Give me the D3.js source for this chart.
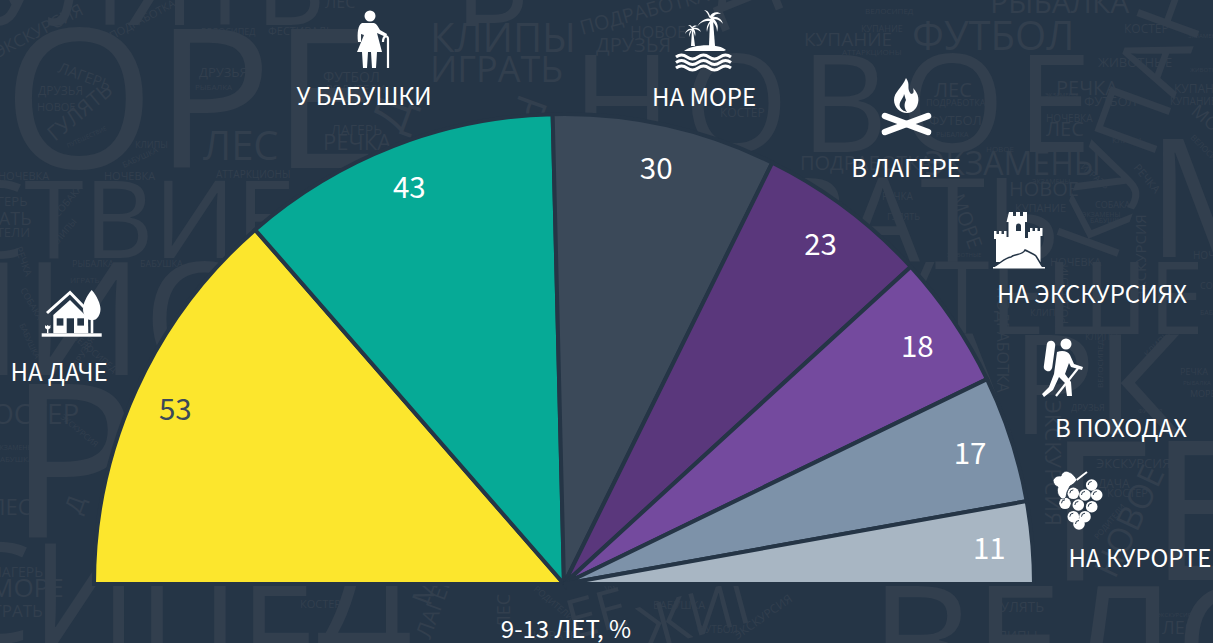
<!DOCTYPE html>
<html><head><meta charset="utf-8">
<script src="https://cdn.jsdelivr.net/npm/d3@7"></script>
<style>html,body{margin:0;padding:0;background:#253546;overflow:hidden}svg{display:block}</style>
</head><body><svg id="c" width="1213" height="643"></svg>
<script>
const categories=["НА ДАЧЕ","У БАБУШКИ","НА МОРЕ","В ЛАГЕРЕ","НА ЭКСКУРСИЯХ","В ПОХОДАХ","НА КУРОРТЕ"];
const values=[53,43,30,23,18,17,11];
const colors=["#FCE62D","#06AA96","#3B4959","#5A377C","#744A9E","#7D92A9","#A8B6C3"];
const labelColors=["#3B4959","#fff","#fff","#fff","#fff","#fff","#fff"];
const caption="9-13 ЛЕТ, %";
const labelPos=[[59,381],[364,105],[704,106],[906,177],[1092,303],[1121,437],[1140,567]];
const iconPos=[[72,315],[368,38],[704,35],[907,105],[1018,240],[1062,370],[1078,500]];
// decorative word cloud: word, x, y, font size, rotation, letter spacing
const cloud=[
["ОРЕ",3,168,195,0],["НОВОЕ",572,152,135,0,12],["ПУТЕШЕСТВИЕ",-480,258,108,0],["ЗАГОРАТЬ",478,262,118,0],
["КУПАНИЕ",1114,265,90,-70],["М",1147,257,164,0],["ПУТЕШЕ",800,334,100,0],["ПАРК",821,434,140,0],["ШИО",-140,375,158,0],
["Р",8,537,215,0],["СИПЕД",-57,643,140,0],["ВЕЛО",870,700,160,0],["ГЕ",1048,580,195,0],["УЛЯТЬ",-20,25,110,0],["В",455,23,115,0],["ДА",715,15,100,-22],
["Д",402,135,48,-70],["Р",520,92,42,110],
["ЭКСКУРСИЯ",-2,58,17,-27],["ПОДРАБОТКА",112,40,11,-28],["ВЕЛОСИПЕД",201,35,9,0],["ФЕСТИВАЛЬ",268,35,11,0],["ЛЕС",325,8,16,0],
["ЛАГЕРЬ",57,72,15,20],["ДРУЗЬЯ",38,95,12,0],["НОВОЕ",37,111,11,0],["ГУЛЯТЬ",55,142,21,-40],["ПУТЕШЕСТВИЕ",68,148,6,-25],["КЛИПЫ",135,148,9,0],["БАБУШКА",124,168,8,-25],
["ЛЕС",203,160,40,0],["НОЧЕВКА",-2,180,11,0],["НОЧЕВКА",104,180,11,0],["АТТАРКЦИОНЫ",216,178,10,0],["ДРУЗЬЯ",199,77,13,0],["РЫБАЛКА",195,90,8,0],
["ФУТБОЛ",323,82,14,0],["РОДИТЕЛИ",326,93,11,0],["ЛАГЕРЬ",331,135,14,0],["РЕЧКА",323,150,22,0],["ЛАГЕРЬ",-20,206,13,0],["ИГРАТЬ",-35,225,18,0],["РОДИТЕЛИ",-40,237,13,0],
["СОБАКА",58,218,10,-50],["КЛИПЫ",56,247,9,-50],["РЫБАЛКА",72,267,9,0],["БАБУШКА",140,267,9,0],["ИГРАТЬ",70,283,8,0],["РЕЧКА",15,248,10,70],["СОБАКА",20,290,9,60],["БАБУШКА",19,325,8,65],
["КЛИПЫ",430,52,40,0],["ИГРАТЬ",430,82,36,0],["ПОДРАБОТКА",582,35,20,-15],["НОВОЕ",630,38,16,0],["ДРУЗЬЯ",596,52,20,0],["КОСТЕР",720,117,12,0],
["ВЕЛОСИПЕД",865,14,8,0],["КУПАНИЕ",861,32,9,0],["КУПАНИЕ",804,46,19,0],["АТТАРКЦИОНЫ",842,55,8,0],["ФУТБОЛ",912,50,40,0],["РЫБАЛКА",990,13,30,0],["КОСТЕР",1124,33,12,0],
["ЖИВОТНЫЕ",1098,67,13,0],["ЛЕС",934,97,20,0],["ПОДРАБОТКА",926,106,9,0],["ФУТБОЛ",929,125,13,0],["РЫБАЛКА",936,137,7,0],["РЕЧКА",1056,95,20,0],["ФУТБОЛ",1084,106,13,0],
["ЭКЗАМЕНЫ",1045,97,6,0],["НОЧЕВКА",1046,122,10,0],["ЛЕС",1046,136,20,0],["ЭКЗАМЕНЫ",925,175,32,0],["ПОДРАБОТКА",800,170,20,0],["НОВОЕ",1009,196,20,0],["КУПАНИЕ",1015,212,11,0],
["ЭКЗАМЕНЫ",1032,184,7,0],["НОВОЕ",986,152,8,0],["РЕЧКА",882,200,10,0],["ГУЛЯТЬ",887,220,9,0],["МОРЕ",950,197,20,70],["ЖИВОТНЫЕ",947,257,6,0],["НОЧЕВКА",1050,266,11,0],
["СОБАКА",1095,208,9,0],["ЭКЗАМЕНЫ",1082,217,7,0],["БАБУШКА",1090,223,7,0],["КЛИПЫ",1112,143,8,0],["КУПАНИЕ",1174,93,12,0],["КУПАНИЕ",1170,105,10,0],
["ЭКЗАМЕНЫ",1188,38,6,0],["ЖИВОТНЫЕ",1190,72,6,0],["МОРЕ",1190,113,18,40],["ВЕЛОСИПЕД",1190,138,8,45],["РЕЧКА",1133,168,11,50],["ИГРАТЬ",1080,168,9,40],["НОЧЕВКА",1193,259,10,0],
["ЭКСКУРСИЯ",1146,300,15,-90],["ПОДРАБОТКА",997,287,16,90],["ВЕЛОСИПЕД",1103,388,8,-90],["РОДИТЕЛИ",1068,324,11,-90],["КЛИПЫ",1030,316,9,0],["КЛИПЫ",1085,340,9,0],["КЛИПЫ",1148,358,9,-45],
["СОБАКА",1200,289,9,0],["БАБУШКА",1200,315,7,0],["ЭКСКУРСИЯ",1045,400,22,90],
["ДРУЗЬЯ",1071,411,9,0],["ФУТБОЛ",1138,413,6,0],["ЭКСКУРСИЯ",1096,468,13,0],["ДАЧА",1098,488,12,0],["КОСТЕР",1107,497,11,0],["НОВОЕ",1115,580,34,-65],["РОДИТЕЛИ",1098,540,8,-50],
["ГУЛЯТЬ",993,612,14,0],["КЛИПЫ",990,640,13,0],["ЭКСКУРСИЯ",1157,617,6,0],["ЛЕС",1162,634,18,0],["РЕЧКА",1180,375,9,0],["РЫБАЛКА",1183,385,6,0],["МОРЕ",1190,397,9,0],
["КОСТЕР",300,608,11,0],["БАБУШКА",653,609,11,0],["ФУТБОЛ",697,633,10,0],["РОДИТЕЛИ",533,590,9,40],["ЛЕС",510,628,18,-90],["ЛАГЕРЬ",430,640,22,-70],["МОРЕ",430,607,28,-70],
["ИГРАТЬ",533,640,12,0],["ИГРАТЬ",607,593,10,-30],["ЭКСКУРСИЯ",737,640,12,-35],["ЕЕ",572,640,55,-15],["ЖИГ",645,650,60,-15],
["ВЕЛОСИПЕД",72,338,9,40],["ЭКСКУРСИЯ",60,418,8,40],["ЭКЗАМЕНЫ",-5,450,7,0],["БАБУШКА",-5,462,8,0],
["КОСТЕР",-25,424,28,0],["ЛЕС",-10,515,22,0],["ЛАГЕРЬ",-8,577,14,0],["МОРЕ",-10,597,26,0],["ИГРАТЬ",-20,617,17,0],["Д",80,515,24,-70],["ДРУЗЬЯ",78,368,9,-60]
];
const W=1213,H=643,cx=564,cy=584,R=470,labelR=427;
const svg=d3.select("#c");
svg.append("rect").attr("width",W).attr("height",H).attr("fill","#253546");
const font='"Noto Sans CJK SC","Source Sans Pro",sans-serif';
svg.append("g").selectAll("text").data(cloud).join("text")
 .text(d=>d[0]).attr("font-family",'"Open Sans",sans-serif').attr("font-size",d=>d[3]).attr("letter-spacing",d=>d[5]||0)
 .attr("fill","#323F4E").attr("transform",d=>`translate(${d[1]},${d[2]}) rotate(${d[4]})`);
const pie=d3.pie().sort(null).startAngle(-Math.PI/2).endAngle(Math.PI/2);
const arcs=pie(values);
const arc=d3.arc().innerRadius(0).outerRadius(R);
const lab=d3.arc().innerRadius(labelR).outerRadius(labelR);
const g=svg.append("g").attr("transform",`translate(${cx},${cy})`);
g.selectAll("path").data(arcs).join("path").attr("d",arc).attr("fill",(d,i)=>colors[i]).attr("stroke","#253546").attr("stroke-width",4).attr("stroke-linejoin","miter");
g.selectAll("text").data(arcs).join("text").attr("transform",d=>`translate(${lab.centroid(d)})`)
 .attr("text-anchor","middle").attr("dy","0.42em").attr("font-family",font).attr("font-size",29.5)
 .attr("fill",(d,i)=>labelColors[i]).text(d=>d.value);
const L=svg.append("g").attr("font-family",font).attr("font-size",24).attr("fill","#fff").attr("text-anchor","middle");
categories.forEach((c,i)=>L.append("text").attr("x",labelPos[i][0]).attr("y",labelPos[i][1]).text(c));
L.append("text").attr("x",566).attr("y",638).text(caption);

const BG="#253546";
function icon(i){return svg.append("g").attr("transform",`translate(${iconPos[i]})`).attr("fill","#fff");}
// house
(function(){const s=icon(0);
 s.append("path").attr("d","M-25,-2 L-2,-22.5 L12,-8").attr("fill","none").attr("stroke","#fff").attr("stroke-width",3);
 s.append("path").attr("d","M-18.7,0 L-2,-15 L12,-1 L16,3 L16.3,18.3 L-18.7,18.3Z");
 s.append("path").attr("d","M19.7,-25 C25,-19 28.5,-11 28.5,-6 C28.5,0 25,5 21.3,5 L21.3,18.3 L18.7,18.3 L18.7,5 C14.5,5 11,0 11,-6 C11,-11 14.5,-19 19.7,-25Z");
 [[-15.3,3.3,6.7,7.3],[-5.3,3.3,7.3,15],[5.3,3.3,6.7,7.3]].forEach(r=>s.append("rect").attr("x",r[0]).attr("y",r[1]).attr("width",r[2]).attr("height",r[3]).attr("fill",BG));
 s.append("rect").attr("x",-30.3).attr("y",18.3).attr("width",60).attr("height",3.4);
 s.append("path").attr("d","M-27,10 l1.3,1.3 l1.4,-1.3 l1.4,1.3 l1.3,-1.3 v3 l-2,1.6 v3.7 h-1.4 v-3.7 l-2,-1.6Z");
})();
// grandmother
(function(){const s=icon(1);
 s.append("circle").attr("cx",2).attr("cy",-22).attr("r",5.5);
 s.append("path").attr("d","M-6,-15 L6,-15 C9,-14 10,-11 12,-8 L19,-4 L18,-1 L9,-5 L14,14 L-11,14 L-4,-3 L-7,-4 L-7,4 L-10,4 C-11,-5 -10,-13 -6,-15Z");
 s.append("path").attr("d","M-6,14 L0,14 L-1,30 L-5,30Z M3,14 L9,14 L8,30 L4,30Z");
 s.append("path").attr("d","M15,4 C15,-3 20,-3 20,1 L20,30").attr("fill","none").attr("stroke","#fff").attr("stroke-width",2.2);
})();
// island
(function(){const s=icon(2);
 s.append("path").attr("d","M-20,16 C-12,9 15,8 22,15 L20,16Z");
 s.append("path").attr("d","M5,11 L6,-15 L9,-15 L11,11Z");
 s.append("path").attr("d","M7,-16 C2,-18 -4,-14 -7,-8 C-3,-14 2,-14 6,-14 C3,-10 2,-7 3,-3 C4,-9 6,-12 8,-14 C12,-10 13,-7 13,-3 C15,-9 13,-13 10,-16 C14,-16 18,-13 19,-11 C18,-16 13,-19 9,-18 C11,-21 14,-22 17,-21 C14,-24 8,-23 6,-19 C5,-23 3,-25 0,-25 C3,-23 4,-21 5,-18Z");
 s.append("path").attr("d","M-13,11 L-12,-5 L-11,-5 L-9,11Z");
 s.append("path").attr("d","M-12,-6 C-15,-7 -18,-5 -19,-1 C-17,-4 -15,-5 -13,-5 C-15,-3 -15,0 -15,2 C-14,-1 -13,-3 -12,-5 C-10,-3 -9,0 -9,2 C-8,-2 -9,-4 -10,-6 C-8,-6 -5,-5 -3,-3 C-4,-7 -8,-8 -11,-7 C-10,-8 -8,-9 -7,-9 C-9,-10 -11,-9 -12,-8 C-13,-10 -14,-10 -16,-10 C-14,-9 -13,-8 -12,-6Z");
 [22,27.5,33].forEach(y=>s.append("path").attr("d",`M-28,${y} q5.5,-4 11,0 t11,0 t11,0 t11,0 t11,0`).attr("fill","none").attr("stroke","#fff").attr("stroke-width",3));
})();
// campfire
(function(){const s=icon(3);
 s.append("path").attr("fill-rule","evenodd").attr("d","M-1,-27 C4,-20 -1,-17 4,-11 C7,-11 7,-14 6,-17 C12,-11 13,-4 9,3 C6,7 3,8 0,8 C-7,8 -13,2 -13,-5 C-13,-13 -5,-17 -1,-27Z M-3,-11 C-3,-7 -9,-3 -7,2 C-5,6 -2,6 0,7 C-3,3 -3,-1 -1,-5 C-2,-7 -2,-9 -3,-11Z");
 [[-22,11,21,27],[21,11,-22,27]].forEach(l=>s.append("line").attr("x1",l[0]).attr("y1",l[1]).attr("x2",l[2]).attr("y2",l[3]).attr("stroke","#fff").attr("stroke-width",6.5).attr("stroke-linecap","round"));
})();
// castle
(function(){const s=icon(4);
 s.append("path").attr("d","M-9,-28 h4 v4 h3 v-4 h4 v4 h3 v-4 h4 v10 h-2 V-2 h3 V-8 h2 v-4 h2.5 v3 h2.5 v-3 h2.5 v3 h2.5 v-3 h2.5 v8 h-2 V22 H-22 V-1 h-2 v-8 h2.5 v3 h2.5 v-3 h2.5 v3 h2.5 v-3 h2.5 v6 h2 V-18 h-2Z");
 s.append("path").attr("d","M-2,-9 v-5 a2.5,2.5 0 0 1 5,0 v5Z").attr("fill",BG);
 s.append("path").attr("d","M-25,27 C-18,24 -14,18 -7,17 C-3,13 4,16 7,10 C11,12 16,14 18,16 L24,26 L27,28 L-26,28Z").attr("stroke",BG).attr("stroke-width",1.5);
 s.append("rect").attr("x",-25).attr("y",27).attr("width",52).attr("height",1.5);
})();
// hiker
(function(){const s=icon(5);
 s.append("circle").attr("cx",4).attr("cy",-26).attr("r",5.5);
 s.append("line").attr("x1",-11).attr("y1",-25).attr("x2",-14).attr("y2",-3).attr("stroke","#fff").attr("stroke-width",8.5).attr("stroke-linecap","round");
 s.append("path").attr("d","M-5,-18 C0,-20 6,-19 8,-15 L12,-6 L21,-3 L20,0 L9,-3 L7,-7 L3,4 L9,12 L10,26 L5,26 L3,13 L-3,7 L-9,20 L-18,27 L-20,24 L-13,17 L-8,4Z");
 s.append("path").attr("d","M17,-3 L-6,26").attr("stroke","#fff").attr("stroke-width",2.2).attr("fill","none");
})();
// grapes
(function(){const s=icon(6);
 [[13.7,-15],[-4.7,-6.7],[7,-5],[18.7,-5],[-13,3.3],[0.3,5],[13.7,6.7],[-4.7,16.7],[7,16.7],[1,24]].forEach(p=>{
  s.append("circle").attr("cx",p[0]).attr("cy",p[1]).attr("r",5.8);
  s.append("path").attr("d",`M${p[0]-3.5},${p[1]} a3.5,3.5 0 0 1 3.5,-3.5`).attr("fill","none").attr("stroke",BG).attr("stroke-width",1);});
 s.append("path").attr("d","M-25,-20 C-22,-25 -18,-24 -17,-24 C-16,-28 -12,-30 -9,-28 C-6,-27 -3,-24 -1,-20 C-3,-17 -6,-15 -8,-14 L-11,-8 L-12,-3 C-14,0 -17,-1 -18,-3 C-21,-6 -21,-10 -20,-13 C-23,-14 -25,-17 -25,-20Z").attr("stroke",BG).attr("stroke-width",0.8);
 s.append("path").attr("d","M-1.3,-20 L5,-25 L9,-28").attr("stroke","#fff").attr("stroke-width",2).attr("fill","none");
})();
</script></body></html>
